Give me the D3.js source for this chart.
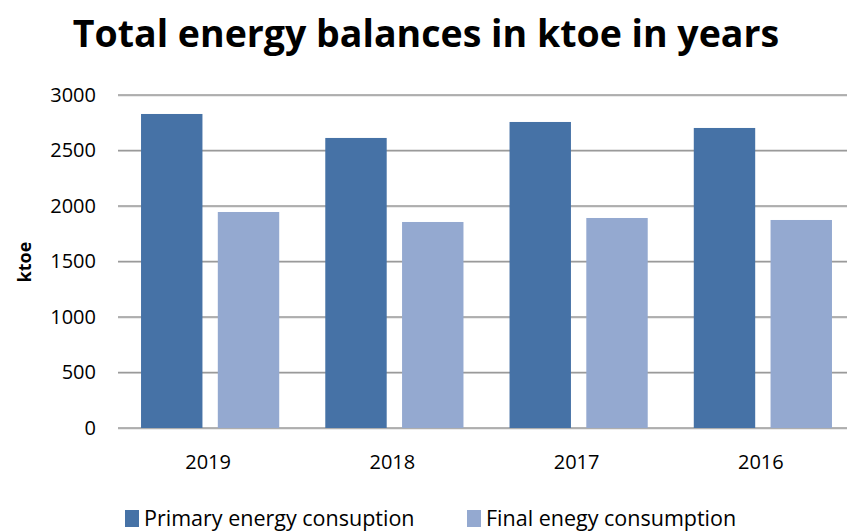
<!DOCTYPE html>
<html><head><meta charset="utf-8">
<script src="https://cdn.jsdelivr.net/npm/d3@7"></script>
<style>body{margin:0;background:#fff;} text{font-family:"Open Sans",sans-serif;}</style>
</head><body>
<svg id="c" width="847" height="531"></svg>
<script>
const categories = ["2019","2018","2017","2016"];
const seriesNames = ["Primary energy consuption","Final enegy consumption"];
const primary = [2829, 2613, 2757, 2703];
const finalC = [1946, 1856, 1892, 1874];
const yTicks = [0,500,1000,1500,2000,2500,3000];
const colors = ["#4672A6","#94A9D0"];

const svg = d3.select("#c");
const x = d3.scaleBand().domain(categories).range([118, 855]).paddingInner(0).paddingOuter(0);
const y = d3.scaleLinear().domain([0,3000]).range([428, 95]);
const inner = d3.scaleBand().domain([0,1]).range([0, x.bandwidth()]).paddingInner(0.2).paddingOuter(0.3);

svg.append("text").attr("x",426).attr("y",47).attr("text-anchor","middle")
  .attr("font-size",37.5).attr("font-weight","bold").attr("fill","#000")
  .text("Total energy balances in ktoe in years");

// gridlines
const grid = svg.append("g");
yTicks.forEach(t=>{
  grid.append("line").attr("x1",118).attr("x2",847).attr("y1",y(t)+1).attr("y2",y(t)+1)
    .attr("stroke","#d8d8d8").attr("stroke-width",1);
  grid.append("line").attr("x1",118).attr("x2",847).attr("y1",y(t)).attr("y2",y(t))
    .attr("stroke","#9a9a9a").attr("stroke-width",1.5);
});

const yAxis = d3.axisLeft(y).tickValues(yTicks).tickFormat(d3.format("d")).tickSize(0).tickPadding(0);
const ya = svg.append("g").attr("transform","translate(96,0)").call(yAxis);
ya.select(".domain").remove();
ya.selectAll("text").attr("font-size",20).attr("fill","#000").attr("font-family","'Open Sans',sans-serif");

const data = [primary, finalC];
data.forEach((vals,si)=>{
  svg.append("g").selectAll("rect").data(vals).join("rect")
    .attr("x",(d,i)=>x(categories[i])+inner(si))
    .attr("width",inner.bandwidth())
    .attr("y",d=>y(d))
    .attr("height",d=>y(0)-y(d))
    .attr("fill",colors[si]);
});

const xAxis = d3.axisBottom(x).tickSize(0).tickPadding(0);
const xa = svg.append("g").attr("transform","translate(-2,455)").call(xAxis);
xa.select(".domain").remove();
xa.selectAll("text").attr("font-size",20).attr("fill","#000").attr("dy","0.71em").attr("font-family","'Open Sans',sans-serif");

svg.append("text").attr("transform","translate(31,262) rotate(-90)").attr("text-anchor","middle")
  .attr("font-size",18).attr("font-weight","bold").text("ktoe");

const legX = [125, 467];
seriesNames.forEach((n,i)=>{
  svg.append("rect").attr("x",legX[i]).attr("y",510).attr("width",14).attr("height",17).attr("fill",colors[i]);
  svg.append("text").attr("x",legX[i]+19).attr("y",526).attr("font-size",21.5).text(n);
});
</script>
</body></html>
